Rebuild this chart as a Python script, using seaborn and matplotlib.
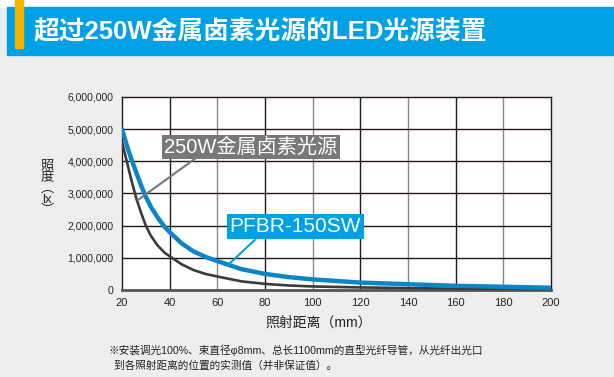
import numpy as np
import pandas as pd
import matplotlib
matplotlib.use('Agg')
import matplotlib.pyplot as plt
import seaborn as sns
from matplotlib.patches import Rectangle

# 照射距离 (mm)
distance = [20, 22, 24, 26, 28, 30, 32, 35, 38, 40, 45, 50, 55, 60, 70, 80,
            90, 100, 120, 140, 160, 180, 200]
# PFBR-150SW 照度 (lx)
led_lux = [5000000, 4500000, 4050000, 3650000, 3250000, 2900000, 2600000, 2250000,
           1950000, 1800000, 1450000, 1200000, 1030000, 900000, 650000, 500000,
           400000, 330000, 230000, 180000, 130000, 100000, 70000]
# 250W金属卤素光源 照度 (lx)
halide_lux = [4600000, 4000000, 3400000, 2850000, 2400000, 2000000, 1700000, 1380000,
              1150000, 1050000, 800000, 620000, 500000, 420000, 270000, 190000,
              140000, 110000, 80000, 60000, 40000, 30000, 20000]

x_ticks = list(range(20, 201, 20))
y_ticks = list(range(0, 6000001, 1000000))

title = '超过250W金属卤素光源的LED光源装置'
label_halide = '250W金属卤素光源'
label_led = 'PFBR-150SW'
note = ['※安装调光100%、束直径φ8mm、总长1100mm的直型光纤导管，从光纤出光口',
        '  到各照射距离的位置的实测值（并非保证值）。']

df = pd.DataFrame({'dist': distance, 'led': led_lux, 'halide': halide_lux})

sns.set_theme(style='white')
plt.rcParams['font.family'] = ['Liberation Sans', 'Noto Sans CJK SC', 'DejaVu Sans']

W, H = 614, 377
fig = plt.figure(figsize=(W / 100, H / 100), dpi=100, facecolor='#eeeeee')

# header band
fig.patches.append(Rectangle((0, (H - 7) / H), 1, 7 / H, transform=fig.transFigure,
                             color='white', zorder=0))
fig.patches.append(Rectangle((7 / W, (H - 55) / H), 1, 48 / H, transform=fig.transFigure,
                             color='#00a0e4', zorder=1))
fig.patches.append(Rectangle((15 / W, (H - 48) / H), 8 / W, 48 / H, transform=fig.transFigure,
                             color='#f5b400', zorder=2))
fig.text(34 / W, (H - 31) / H, title, color='white', fontsize=18.5, fontweight='bold',
         va='center', ha='left', zorder=3)

ax = fig.add_axes([122 / W, (H - 290) / H, (551 - 122) / W, (290 - 97) / H])
ax.set_facecolor('white')

sns.lineplot(data=df, x='dist', y='halide', ax=ax, color='#3c3a3a', linewidth=1.9, zorder=3)
sns.lineplot(data=df, x='dist', y='led', ax=ax, color='#0a85c8', linewidth=3.2, zorder=4)

ax.set_xlim(20, 200)
ax.set_ylim(0, 6000000)
ax.set_xticks(x_ticks)
ax.set_yticks(y_ticks)
ax.set_xticklabels([str(v) for v in x_ticks], fontsize=8, color='#222222')
ax.set_yticklabels([f'{v:,}' for v in y_ticks], fontsize=7.5, color='#222222')
ax.tick_params(length=0, pad=6)

for i, v in enumerate(x_ticks[1:-1]):
    ax.axvline(v, color='#231815' if i % 2 == 0 else '#8a8787', linewidth=1.0, zorder=1)
for v in y_ticks[1:-1]:
    ax.axhline(v, color='#231815', linewidth=1.0, zorder=1)
for s in ax.spines.values():
    s.set_color('#231815')
    s.set_linewidth(1.0)
ax.spines['bottom'].set_color('#555555')
ax.spines['bottom'].set_linewidth(2.0)

ax.set_xlabel('')
ax.set_ylabel('')
fig.text(319 / W, (H - 323) / H, '照射距离（mm）', fontsize=10, color='#222222',
         ha='center', va='center')
fig.text(47 / W, (H - 189) / H, '照\n度\n︵\nlx\n︶', fontsize=9.5, color='#222222',
         ha='center', va='center', linespacing=0.9)

# callout labels
ax.text(37.8, 4450000, label_halide, fontsize=14.5, color='white', ha='left', va='center',
        zorder=6, bbox=dict(boxstyle='square,pad=0.12', fc='#787878', ec='none'))
ax.annotate('', xy=(26.7, 2800000), xytext=(51, 4100000), zorder=5,
            arrowprops=dict(arrowstyle='-', color='#787878', lw=1.5, shrinkA=0, shrinkB=0))
ax.text(65.2, 1970000, label_led, fontsize=15, color='white', ha='left', va='center',
        zorder=6, bbox=dict(boxstyle='square,pad=0.15', fc='#00a0e4', ec='none'))
ax.annotate('', xy=(64.5, 780000), xytext=(75.8, 1560000), zorder=5,
            arrowprops=dict(arrowstyle='-', color='#00a0e4', lw=1.5, shrinkA=0, shrinkB=0))

fig.text(108 / W, (H - 350) / H, note[0], fontsize=7.7, color='#222222', ha='left', va='center')
fig.text(108 / W, (H - 366) / H, note[1], fontsize=7.7, color='#222222', ha='left', va='center')

fig.savefig('out.png', dpi=100, facecolor=fig.get_facecolor())
